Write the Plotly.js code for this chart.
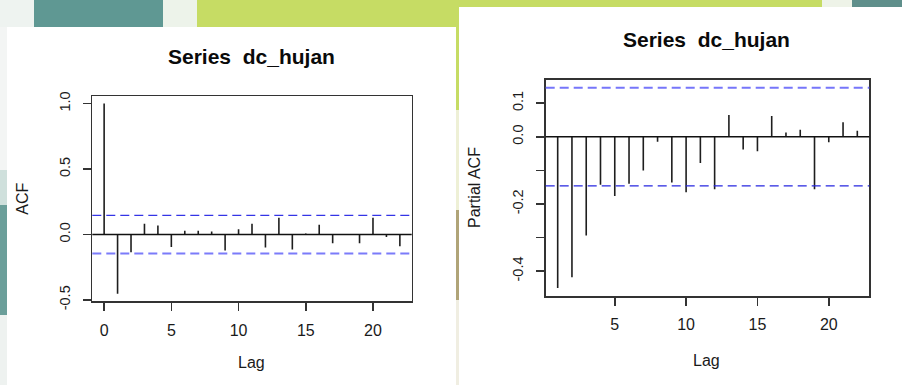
<!DOCTYPE html>
<html>
<head>
<meta charset="utf-8">
<script src="https://cdn.plot.ly/plotly-3.0.1.min.js"></script>
<style>
  html, body { margin: 0; padding: 0; background: #ffffff; }
  #chart { width: 902px; height: 385px; }
</style>
</head>
<body>
<div id="chart"></div>
<script>
// ---- data ----
const seriesName = "dc_hujan";
const acfLags = [0, 1, 2, 3, 4, 5, 6, 7, 8, 9, 10, 11, 12, 13, 14, 15, 16, 17, 18, 19, 20, 21, 22];
const acfValues = [1.000, -0.452, -0.135, 0.082, 0.069, -0.095, 0.028, 0.028, 0.023, -0.122, 0.041, 0.082,
                   -0.100, 0.128, -0.115, 0.008, 0.074, -0.066, 0.001, -0.066, 0.128, -0.020, -0.089];
const pacfLags = [1, 2, 3, 4, 5, 6, 7, 8, 9, 10, 11, 12, 13, 14, 15, 16, 17, 18, 19, 20, 21, 22];
const pacfValues = [-0.450, -0.418, -0.294, -0.143, -0.176, -0.140, -0.100, -0.015, -0.136, -0.165, -0.078,
                    -0.156, 0.065, -0.038, -0.043, 0.062, 0.013, 0.021, -0.156, -0.016, 0.043, 0.018];
const confLimit = 0.146;

const acfXTicks = [0, 5, 10, 15, 20];
const acfYTicks = [-0.5, 0, 0.5, 1.0];
const acfYTickText = ["-0.5", "0.0", "0.5", "1.0"];
const pacfXTicks = [5, 10, 15, 20];
const pacfYTicks = [-0.4, -0.3, -0.2, -0.1, 0, 0.1];
const pacfYTickText = ["-0.4", "", "-0.2", "", "0.0", "0.1"];

// ---- helpers ----
const W = 902, H = 385;
const px = x => x / W;
const py = y => 1 - y / H;

function spikes(lags, vals) {
  const xs = [], ys = [];
  lags.forEach((l, i) => { xs.push(l, l, null); ys.push(0, vals[i], null); });
  return { x: xs, y: ys };
}

const a = spikes(acfLags, acfValues);
const p = spikes(pacfLags, pacfValues);

const traces = [
  { type: "scatter", mode: "lines", x: a.x, y: a.y, xaxis: "x", yaxis: "y",
    line: { color: "#1e1e1e", width: 1.6 }, hoverinfo: "skip", showlegend: false },
  { type: "scatter", mode: "lines", x: p.x, y: p.y, xaxis: "x2", yaxis: "y2",
    line: { color: "#1e1e1e", width: 1.6 }, hoverinfo: "skip", showlegend: false }
];

const tickFont = { family: "Liberation Sans, Arial, sans-serif", size: 16, color: "#1a1a1a" };
const yTickFont = { family: "Liberation Sans, Arial, sans-serif", size: 14.5, color: "#1a1a1a" };
const boxAxis = {
  showline: true, mirror: true, linecolor: "#333", linewidth: 1.5,
  ticks: "outside", ticklen: 8, tickwidth: 1.5, tickcolor: "#333",
  showgrid: false, zeroline: false, fixedrange: true
};

const shapes = [];
function rect(x0, y0, x1, y1, color) {
  shapes.push({ type: "rect", xref: "paper", yref: "paper", layer: "below",
    x0: px(x0), x1: px(x1), y0: py(y1), y1: py(y0), fillcolor: color, line: { width: 0 } });
}
// slide background around the two pasted panels
rect(0, 0, 34, 27, "#eef3f0");
rect(34, 0, 163, 27, "#5f9893");
rect(163, 0, 197, 27, "#edf3ea");
rect(197, 0, 456, 27, "#c6dc64");
rect(456, 0, 822, 7, "#c6dc64");
rect(822, 0, 852, 7, "#eef3e8");
rect(852, 0, 902, 7, "#5f8f8b");
rect(456, 7, 459, 110, "#c6dc64");
rect(456, 110, 459, 210, "#eef0d6");
rect(456, 210, 459, 300, "#b0a478");
rect(456, 300, 459, 385, "#f0eee2");
rect(0, 27, 7, 170, "#f3f5f4");
rect(0, 170, 7, 205, "#cfe0dc");
rect(0, 205, 7, 315, "#6b9f9a");
rect(0, 315, 7, 385, "#eef2f0");

// zero lines and confidence limits
function hline(xref, yref, y, color, width, dash) {
  shapes.push({ type: "line", xref: xref + " domain", yref: yref, x0: 0, x1: 1, y0: y, y1: y,
    line: { color: color, width: width, dash: dash } });
}
hline("x", "y", 0, "#111", 1.5, "solid");
hline("x", "y", confLimit, "#3434e6", 1.3, "9px,5px");
hline("x", "y", -confLimit, "#7b7bfa", 2, "9px,5px");
hline("x2", "y2", 0, "#111", 1.5, "solid");
hline("x2", "y2", confLimit, "#7676fa", 2, "9px,5px");
hline("x2", "y2", -confLimit, "#2626e0", 1.3, "9px,5px");

const txtFont = { family: "Liberation Sans, Arial, sans-serif", size: 16, color: "#1a1a1a" };
const titleFont = { family: "Liberation Sans, Arial, sans-serif", size: 21, color: "#0a0a0a", weight: "bold" };
function ann(text, x, y, font, angle) {
  return { text: text, xref: "paper", yref: "paper", x: px(x), y: py(y),
    xanchor: "center", yanchor: "middle", showarrow: false, font: font, textangle: angle || 0 };
}

const layout = {
  width: W, height: H,
  margin: { l: 0, r: 0, t: 0, b: 0, pad: 0 },
  paper_bgcolor: "#ffffff", plot_bgcolor: "#ffffff",
  showlegend: false,
  xaxis: Object.assign({}, boxAxis, {
    domain: [px(92.3), px(411.7)], range: [-0.88, 22.88], anchor: "y",
    tickvals: acfXTicks, ticktext: acfXTicks.map(String), tickfont: tickFont, ticklabelstandoff: 6
  }),
  yaxis: Object.assign({}, boxAxis, {
    domain: [py(301), py(96)], range: [-0.508, 1.058], anchor: "x",
    tickvals: acfYTicks, ticktext: acfYTickText, tickfont: yTickFont, tickangle: -90, ticklabelstandoff: 7
  }),
  xaxis2: Object.assign({}, boxAxis, {
    domain: [px(545.7), px(869.3)], range: [0.16, 22.84], anchor: "y2",
    tickvals: pacfXTicks, ticktext: pacfXTicks.map(String), tickfont: tickFont, ticklabelstandoff: 5
  }),
  yaxis2: Object.assign({}, boxAxis, {
    domain: [py(296), py(79.7)], range: [-0.474, 0.170], anchor: "x2",
    tickvals: pacfYTicks, ticktext: pacfYTickText, tickfont: yTickFont, tickangle: -90, ticklabelstandoff: 7
  }),
  shapes: shapes,
  annotations: [
    ann("Series  " + seriesName, 251, 57, titleFont),
    ann("Series  " + seriesName, 706.7, 39, titleFont),
    ann("Lag", 251, 362, txtFont),
    ann("Lag", 706.7, 360.7, txtFont),
    ann("ACF", 22.7, 199, txtFont, -90),
    ann("Partial ACF", 475, 188, txtFont, -90)
  ]
};

Plotly.newPlot("chart", traces, layout, { displayModeBar: false, staticPlot: true });
</script>
</body>
</html>
